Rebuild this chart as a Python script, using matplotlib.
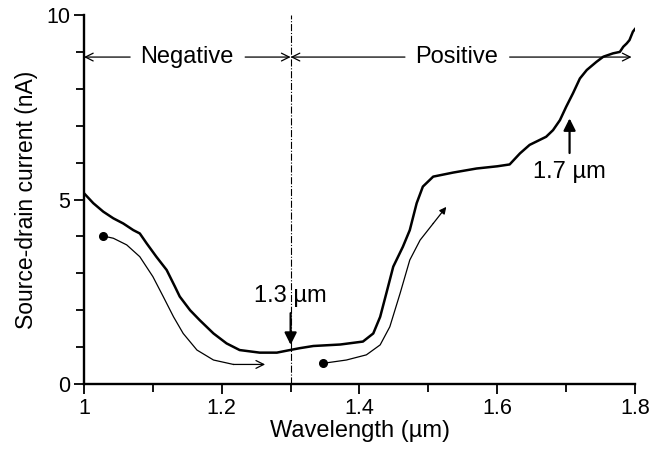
import matplotlib
matplotlib.use("Agg")
from matplotlib import pyplot as plt
from matplotlib.ticker import MultipleLocator

plt.rcParams['font.family'] = ['Liberation Sans', 'DejaVu Sans']

wl = [1.0, 1.0135, 1.028, 1.0426, 1.057, 1.0716, 1.081, 1.091, 1.105, 1.12,
      1.132, 1.139, 1.154, 1.168, 1.188, 1.207, 1.226, 1.255, 1.28, 1.299,
      1.313, 1.333, 1.372, 1.405, 1.42, 1.43, 1.439, 1.449, 1.463, 1.473,
      1.483, 1.492, 1.507, 1.536, 1.57, 1.6, 1.618, 1.633, 1.647, 1.671,
      1.681, 1.691, 1.70, 1.71, 1.72, 1.73, 1.744, 1.754, 1.768, 1.778,
      1.783, 1.788, 1.792, 1.797, 1.8]
current = [5.17, 4.90, 4.67, 4.49, 4.35, 4.17, 4.08, 3.81, 3.45, 3.09,
           2.64, 2.37, 2.0, 1.73, 1.37, 1.10, 0.92, 0.85, 0.85, 0.92,
           0.97, 1.03, 1.07, 1.15, 1.37, 1.82, 2.46, 3.18, 3.72, 4.17,
           4.90, 5.35, 5.62, 5.73, 5.84, 5.9, 5.95, 6.25, 6.48, 6.70,
           6.88, 7.15, 7.51, 7.88, 8.28, 8.51, 8.73, 8.87, 8.96, 9.0,
           9.14, 9.23, 9.32, 9.55, 9.62]

# guide arrows (sweep direction)
down_x = [1.028, 1.0426, 1.062, 1.081, 1.1, 1.115, 1.13, 1.144, 1.164,
          1.188, 1.217, 1.263]
down_y = [4.01, 3.95, 3.77, 3.45, 2.91, 2.37, 1.82, 1.37, 0.92,
          0.65, 0.53, 0.53]
up_x = [1.347, 1.381, 1.41, 1.43, 1.444, 1.459, 1.473, 1.488, 1.507, 1.526]
up_y = [0.56, 0.65, 0.79, 1.06, 1.55, 2.46, 3.36, 3.90, 4.35, 4.80]

fig = plt.figure(figsize=(6.69, 4.53), dpi=100)
ax = fig.add_axes([84/669, 1 - 384/453, 551/669, 369/453])

ax.plot(wl, current, color='black', lw=1.8)

ax.plot(down_x[:-1], down_y[:-1], color='black', lw=0.9)
ax.annotate('', xy=(down_x[-1], down_y[-1]), xytext=(down_x[-2], down_y[-2]),
            arrowprops=dict(arrowstyle='->', lw=0.9, color='black',
                            shrinkA=0, shrinkB=0, mutation_scale=14))
ax.plot(down_x[0], down_y[0], 'o', color='black', ms=5.5)

ax.plot(up_x[:-1], up_y[:-1], color='black', lw=0.9)
ax.annotate('', xy=(up_x[-1], up_y[-1]), xytext=(up_x[-2], up_y[-2]),
            arrowprops=dict(arrowstyle='-|>', lw=0.9, color='black',
                            shrinkA=0, shrinkB=0, mutation_scale=10))
ax.plot(up_x[0], up_y[0], 'o', color='black', ms=5.5)

ax.axvline(1.3, color='black', lw=0.8, ls='-.')

# region labels
yreg = 8.86
arrow_kw = dict(arrowstyle='->', lw=0.9, color='black',
                shrinkA=0, shrinkB=0, mutation_scale=14)
ax.text(1.15, yreg, 'Negative', ha='center', va='center', fontsize=17)
ax.annotate('', xy=(1.0, yreg), xytext=(1.067, yreg), arrowprops=arrow_kw)
ax.annotate('', xy=(1.3, yreg), xytext=(1.234, yreg), arrowprops=arrow_kw)
ax.text(1.541, yreg, 'Positive', ha='center', va='center', fontsize=17)
ax.annotate('', xy=(1.3, yreg), xytext=(1.466, yreg), arrowprops=arrow_kw)
ax.annotate('', xy=(1.795, yreg), xytext=(1.618, yreg), arrowprops=arrow_kw)

ax.text(1.3, 2.38, '1.3 \u00b5m', ha='center', va='center', fontsize=17)
ax.annotate('', xy=(1.3, 1.06), xytext=(1.3, 1.92),
            arrowprops=dict(arrowstyle='-|>', lw=1.6, color='black',
                            shrinkA=0, shrinkB=0, mutation_scale=18))
ax.text(1.705, 5.75, '1.7 \u00b5m', ha='center', va='center', fontsize=17)
ax.annotate('', xy=(1.705, 7.2), xytext=(1.705, 6.26),
            arrowprops=dict(arrowstyle='-|>', lw=1.6, color='black',
                            shrinkA=0, shrinkB=0, mutation_scale=18))

ax.set_xlim(1.0, 1.8)
ax.set_ylim(0, 10)
ax.set_xticks([1.0, 1.2, 1.4, 1.6, 1.8])
ax.set_xticklabels(['1', '1.2', '1.4', '1.6', '1.8'])
ax.xaxis.set_minor_locator(MultipleLocator(0.1))
ax.yaxis.set_major_locator(MultipleLocator(5))
ax.yaxis.set_minor_locator(MultipleLocator(1))

for s in ['top', 'right']:
    ax.spines[s].set_visible(False)
for s in ['left', 'bottom']:
    ax.spines[s].set_linewidth(1.7)
ax.tick_params(which='both', direction='out', width=1.3, labelsize=15.5)
ax.tick_params(which='major', length=7, pad=3)
ax.tick_params(which='minor', length=6)

ax.set_xlabel('Wavelength (\u00b5m)', fontsize=17, labelpad=1)
ax.set_ylabel('Source-drain current (nA)', fontsize=16.5, labelpad=6)

fig.savefig('out.png', dpi=100)
